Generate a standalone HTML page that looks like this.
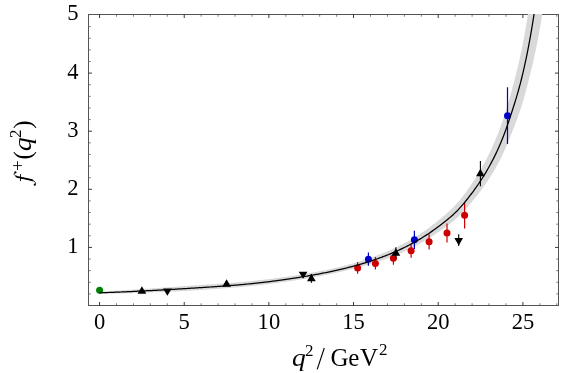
<!DOCTYPE html>
<html><head><meta charset="utf-8"><title>f+(q2)</title>
<style>html,body{margin:0;padding:0;background:#fff;}svg{display:block;}</style>
</head><body>
<svg width="581" height="373" viewBox="0 0 581 373">
<rect width="581" height="373" fill="#fff"/>
<rect x="88.5" y="14.5" width="470.0" height="291.0" fill="none" stroke="#555" stroke-width="1"/>
<path d="M99.55,305.5v-3.5M99.55,14.5v3.5M184.22,305.5v-3.5M184.22,14.5v3.5M268.89,305.5v-3.5M268.89,14.5v3.5M353.56,305.5v-3.5M353.56,14.5v3.5M438.23,305.5v-3.5M438.23,14.5v3.5M522.90,305.5v-3.5M522.90,14.5v3.5M88.5,247.40h3.5M558.5,247.40h-3.5M88.5,189.30h3.5M558.5,189.30h-3.5M88.5,131.20h3.5M558.5,131.20h-3.5M88.5,73.10h3.5M558.5,73.10h-3.5" stroke="#222" stroke-width="0.9" fill="none"/>
<path d="M116.48,305.5v-2.2M116.48,14.5v2.2M133.42,305.5v-2.2M133.42,14.5v2.2M150.35,305.5v-2.2M150.35,14.5v2.2M167.29,305.5v-2.2M167.29,14.5v2.2M201.15,305.5v-2.2M201.15,14.5v2.2M218.09,305.5v-2.2M218.09,14.5v2.2M235.02,305.5v-2.2M235.02,14.5v2.2M251.96,305.5v-2.2M251.96,14.5v2.2M285.82,305.5v-2.2M285.82,14.5v2.2M302.76,305.5v-2.2M302.76,14.5v2.2M319.69,305.5v-2.2M319.69,14.5v2.2M336.63,305.5v-2.2M336.63,14.5v2.2M370.49,305.5v-2.2M370.49,14.5v2.2M387.43,305.5v-2.2M387.43,14.5v2.2M404.36,305.5v-2.2M404.36,14.5v2.2M421.30,305.5v-2.2M421.30,14.5v2.2M455.16,305.5v-2.2M455.16,14.5v2.2M472.10,305.5v-2.2M472.10,14.5v2.2M489.03,305.5v-2.2M489.03,14.5v2.2M505.97,305.5v-2.2M505.97,14.5v2.2M539.83,305.5v-2.2M539.83,14.5v2.2M556.77,305.5v-2.2M556.77,14.5v2.2M88.5,293.88h2.2M558.5,293.88h-2.2M88.5,282.26h2.2M558.5,282.26h-2.2M88.5,270.64h2.2M558.5,270.64h-2.2M88.5,259.02h2.2M558.5,259.02h-2.2M88.5,235.78h2.2M558.5,235.78h-2.2M88.5,224.16h2.2M558.5,224.16h-2.2M88.5,212.54h2.2M558.5,212.54h-2.2M88.5,200.92h2.2M558.5,200.92h-2.2M88.5,177.68h2.2M558.5,177.68h-2.2M88.5,166.06h2.2M558.5,166.06h-2.2M88.5,154.44h2.2M558.5,154.44h-2.2M88.5,142.82h2.2M558.5,142.82h-2.2M88.5,119.58h2.2M558.5,119.58h-2.2M88.5,107.96h2.2M558.5,107.96h-2.2M88.5,96.34h2.2M558.5,96.34h-2.2M88.5,84.72h2.2M558.5,84.72h-2.2M88.5,61.48h2.2M558.5,61.48h-2.2M88.5,49.86h2.2M558.5,49.86h-2.2M88.5,38.24h2.2M558.5,38.24h-2.2M88.5,26.62h2.2M558.5,26.62h-2.2" stroke="#555" stroke-width="0.8" fill="none"/>
<clipPath id="c"><rect x="88.5" y="14.0" width="470.0" height="291.5"/></clipPath>
<g clip-path="url(#c)">
<path d="M99.55,291.53 L100.67,291.47 L101.78,291.42 L102.90,291.36 L104.01,291.30 L105.13,291.24 L106.25,291.18 L107.36,291.12 L108.48,291.06 L109.60,291.00 L110.71,290.94 L111.83,290.88 L112.94,290.82 L114.06,290.76 L115.18,290.70 L116.29,290.63 L117.41,290.57 L118.53,290.51 L119.64,290.44 L120.76,290.38 L121.87,290.31 L122.99,290.25 L124.11,290.18 L125.22,290.12 L126.34,290.05 L127.46,289.98 L128.57,289.92 L129.69,289.85 L130.80,289.78 L131.92,289.71 L133.04,289.64 L134.15,289.57 L135.27,289.50 L136.38,289.43 L137.50,289.36 L138.62,289.29 L139.73,289.22 L140.85,289.15 L141.97,289.07 L143.08,289.00 L144.20,288.93 L145.31,288.86 L146.43,288.78 L147.55,288.71 L148.66,288.63 L149.78,288.56 L150.90,288.48 L152.01,288.41 L153.13,288.33 L154.24,288.25 L155.36,288.18 L156.48,288.10 L157.59,288.02 L158.71,287.94 L159.82,287.87 L160.94,287.79 L162.06,287.71 L163.17,287.63 L164.29,287.55 L165.41,287.47 L166.52,287.39 L167.64,287.31 L168.75,287.22 L169.87,287.14 L170.99,287.06 L172.10,286.98 L173.22,286.89 L174.34,286.81 L175.45,286.73 L176.57,286.64 L177.68,286.56 L178.80,286.48 L179.92,286.39 L181.03,286.31 L182.15,286.22 L183.27,286.14 L184.38,286.05 L185.50,285.98 L186.61,285.91 L187.73,285.84 L188.85,285.77 L189.96,285.70 L191.08,285.63 L192.19,285.56 L193.31,285.49 L194.43,285.42 L195.54,285.35 L196.66,285.28 L197.78,285.21 L198.89,285.13 L200.01,285.06 L201.12,284.99 L202.24,284.92 L203.36,284.84 L204.47,284.77 L205.59,284.70 L206.71,284.62 L207.82,284.55 L208.94,284.47 L210.05,284.40 L211.17,284.32 L212.29,284.24 L213.40,284.17 L214.52,284.09 L215.63,284.01 L216.75,283.94 L217.87,283.86 L218.98,283.78 L220.10,283.70 L221.22,283.62 L222.33,283.54 L223.45,283.46 L224.56,283.37 L225.68,283.29 L226.80,283.21 L227.91,283.12 L229.03,283.04 L230.15,282.95 L231.26,282.86 L232.38,282.77 L233.49,282.68 L234.61,282.59 L235.73,282.50 L236.84,282.41 L237.96,282.31 L239.08,282.22 L240.19,282.12 L241.31,282.02 L242.42,281.92 L243.54,281.82 L244.66,281.72 L245.77,281.61 L246.89,281.51 L248.00,281.40 L249.12,281.29 L250.24,281.18 L251.35,281.07 L252.47,280.96 L253.59,280.84 L254.70,280.72 L255.82,280.60 L256.93,280.48 L258.05,280.36 L259.17,280.24 L260.28,280.11 L261.40,279.99 L262.52,279.86 L263.63,279.73 L264.75,279.60 L265.86,279.46 L266.98,279.33 L268.10,279.19 L269.21,279.05 L270.33,278.91 L271.44,278.77 L272.56,278.63 L273.68,278.48 L274.79,278.34 L275.91,278.19 L277.03,278.04 L278.14,277.89 L279.26,277.74 L280.37,277.59 L281.49,277.43 L282.61,277.27 L283.72,277.12 L284.84,276.96 L285.96,276.80 L287.07,276.63 L288.19,276.47 L289.30,276.31 L290.42,276.14 L291.54,275.97 L292.65,275.80 L293.77,275.63 L294.89,275.46 L296.00,275.28 L297.12,275.11 L298.23,274.93 L299.35,274.75 L300.47,274.57 L301.58,274.39 L302.70,274.21 L303.81,274.02 L304.93,273.84 L306.05,273.65 L307.16,273.46 L308.28,273.27 L309.40,273.08 L310.51,272.88 L311.63,272.68 L312.74,272.48 L313.86,272.28 L314.98,272.08 L316.09,271.88 L317.21,271.67 L318.33,271.46 L319.44,271.25 L320.56,271.04 L321.67,270.82 L322.79,270.60 L323.91,270.38 L325.02,270.16 L326.14,269.94 L327.26,269.71 L328.37,269.48 L329.49,269.25 L330.60,269.01 L331.72,268.78 L332.84,268.54 L333.95,268.29 L335.07,268.05 L336.18,267.80 L337.30,267.55 L338.42,267.28 L339.53,267.01 L340.65,266.73 L341.77,266.44 L342.88,266.16 L344.00,265.87 L345.11,265.58 L346.23,265.28 L347.35,264.98 L348.46,264.68 L349.58,264.37 L350.70,264.06 L351.81,263.74 L352.93,263.42 L354.04,263.10 L355.16,262.77 L356.28,262.44 L357.39,262.11 L358.51,261.77 L359.62,261.42 L360.74,261.08 L361.86,260.72 L362.97,260.37 L364.09,260.01 L365.21,259.64 L366.32,259.27 L367.44,258.89 L368.55,258.51 L369.67,258.13 L370.79,257.74 L371.90,257.34 L373.02,256.94 L374.14,256.54 L375.25,256.12 L376.37,255.71 L377.48,255.29 L378.60,254.86 L379.72,254.42 L380.83,253.98 L381.95,253.54 L383.07,253.09 L384.18,252.63 L385.30,252.17 L386.41,251.70 L387.53,251.22 L388.65,250.74 L389.76,250.25 L390.88,249.75 L391.99,249.25 L393.11,248.74 L394.23,248.22 L395.34,247.70 L396.46,247.17 L397.58,246.63 L398.69,246.08 L399.81,245.53 L400.92,244.97 L402.04,244.40 L403.16,243.82 L404.27,243.23 L405.39,242.64 L406.51,242.03 L407.62,241.42 L408.74,240.80 L409.85,240.17 L410.97,239.53 L412.09,238.88 L413.20,238.22 L414.32,237.56 L415.43,236.88 L416.55,236.19 L417.67,235.49 L418.78,234.78 L419.90,234.06 L421.02,233.33 L422.13,232.59 L423.25,231.84 L424.36,231.08 L425.48,230.30 L426.60,229.51 L427.71,228.71 L428.83,227.90 L429.95,227.08 L431.06,226.24 L432.18,225.40 L433.29,224.54 L434.41,223.67 L435.53,222.78 L436.64,221.89 L437.76,220.99 L438.88,220.08 L439.99,219.15 L441.11,218.22 L442.22,217.28 L443.34,216.33 L444.46,215.38 L445.57,214.41 L446.69,213.43 L447.80,212.43 L448.92,211.42 L450.04,210.39 L451.15,209.33 L452.27,208.25 L453.39,207.14 L454.50,205.99 L455.62,204.81 L456.73,203.58 L457.85,202.32 L458.97,201.02 L460.08,199.67 L461.20,198.29 L462.32,196.88 L463.43,195.43 L464.55,193.95 L465.66,192.43 L466.78,190.90 L467.90,189.33 L469.01,187.74 L470.13,186.13 L471.24,184.49 L472.36,182.83 L473.48,181.14 L474.59,179.43 L475.71,177.68 L476.83,175.91 L477.94,174.10 L479.06,172.25 L480.17,170.37 L481.29,168.45 L482.41,166.48 L483.52,164.47 L484.64,162.42 L485.76,160.32 L486.87,158.17 L487.99,155.97 L489.10,153.71 L490.22,151.40 L491.34,149.03 L492.45,146.60 L493.57,144.10 L494.69,141.54 L495.80,138.91 L496.92,136.19 L498.03,133.40 L499.15,130.51 L500.27,127.52 L501.38,124.42 L502.50,121.20 L503.61,117.86 L504.73,114.39 L505.85,110.80 L506.96,107.09 L508.08,103.28 L509.20,99.38 L510.31,95.42 L511.43,91.39 L512.54,87.31 L513.66,83.16 L514.78,78.93 L515.89,74.59 L517.01,70.12 L518.13,65.48 L519.24,60.65 L520.36,55.60 L521.47,50.31 L522.59,44.77 L523.71,38.98 L524.82,32.92 L525.94,26.57 L527.05,19.94 L528.17,13.00 L529.29,5.75 L530.40,-1.84 L531.52,-9.80 L532.64,-18.13 L533.75,-26.88 L534.87,-36.07 L535.98,-45.73 L537.10,-55.91 L538.22,-66.64 L539.33,-77.98 L540.45,-89.96 L541.57,-102.66 L542.68,-116.13 L543.80,-130.44 L544.91,-145.67 L544.91,-3.88 L543.80,4.00 L542.68,11.46 L541.57,18.53 L540.45,25.23 L539.33,31.61 L538.22,37.68 L537.10,43.48 L535.98,49.01 L534.87,54.30 L533.75,59.36 L532.64,64.21 L531.52,68.87 L530.40,73.35 L529.29,77.80 L528.17,82.38 L527.05,86.78 L525.94,91.01 L524.82,95.08 L523.71,98.99 L522.59,102.74 L521.47,106.35 L520.36,109.81 L519.24,113.12 L518.13,116.31 L517.01,119.39 L515.89,122.37 L514.78,125.28 L513.66,128.14 L512.54,130.96 L511.43,133.76 L510.31,136.55 L509.20,139.32 L508.08,142.06 L506.96,144.75 L505.85,147.39 L504.73,149.96 L503.61,152.45 L502.50,154.86 L501.38,157.19 L500.27,159.44 L499.15,161.61 L498.03,163.72 L496.92,165.77 L495.80,167.77 L494.69,169.72 L493.57,171.62 L492.45,173.48 L491.34,175.29 L490.22,177.07 L489.10,178.81 L487.99,180.52 L486.87,182.19 L485.76,183.83 L484.64,185.44 L483.52,187.02 L482.41,188.56 L481.29,190.08 L480.17,191.57 L479.06,193.03 L477.94,194.47 L476.83,195.89 L475.71,197.29 L474.59,198.66 L473.48,200.02 L472.36,201.36 L471.24,202.68 L470.13,203.98 L469.01,205.27 L467.90,206.55 L466.78,207.81 L465.66,209.05 L464.55,210.27 L463.43,211.47 L462.32,212.64 L461.20,213.80 L460.08,214.92 L458.97,216.02 L457.85,217.08 L456.73,218.11 L455.62,219.11 L454.50,220.09 L453.39,221.03 L452.27,221.94 L451.15,222.83 L450.04,223.70 L448.92,224.56 L447.80,225.39 L446.69,226.22 L445.57,227.03 L444.46,227.83 L443.34,228.63 L442.22,229.42 L441.11,230.20 L439.99,230.98 L438.88,231.75 L437.76,232.52 L436.64,233.28 L435.53,234.03 L434.41,234.77 L433.29,235.51 L432.18,236.23 L431.06,236.95 L429.95,237.65 L428.83,238.35 L427.71,239.04 L426.60,239.71 L425.48,240.38 L424.36,241.04 L423.25,241.69 L422.13,242.33 L421.02,242.96 L419.90,243.58 L418.78,244.20 L417.67,244.80 L416.55,245.40 L415.43,245.98 L414.32,246.56 L413.20,247.13 L412.09,247.70 L410.97,248.25 L409.85,248.80 L408.74,249.34 L407.62,249.87 L406.51,250.40 L405.39,250.92 L404.27,251.43 L403.16,251.93 L402.04,252.43 L400.92,252.92 L399.81,253.40 L398.69,253.88 L397.58,254.35 L396.46,254.81 L395.34,255.27 L394.23,255.72 L393.11,256.17 L391.99,256.61 L390.88,257.04 L389.76,257.47 L388.65,257.89 L387.53,258.31 L386.41,258.72 L385.30,259.13 L384.18,259.53 L383.07,259.92 L381.95,260.31 L380.83,260.70 L379.72,261.08 L378.60,261.45 L377.48,261.82 L376.37,262.19 L375.25,262.55 L374.14,262.91 L373.02,263.26 L371.90,263.60 L370.79,263.95 L369.67,264.28 L368.55,264.62 L367.44,264.95 L366.32,265.27 L365.21,265.60 L364.09,265.91 L362.97,266.23 L361.86,266.54 L360.74,266.84 L359.62,267.14 L358.51,267.44 L357.39,267.74 L356.28,268.03 L355.16,268.31 L354.04,268.60 L352.93,268.88 L351.81,269.15 L350.70,269.43 L349.58,269.70 L348.46,269.96 L347.35,270.23 L346.23,270.49 L345.11,270.75 L344.00,271.00 L342.88,271.25 L341.77,271.50 L340.65,271.75 L339.53,271.99 L338.42,272.24 L337.30,272.49 L336.18,272.74 L335.07,272.99 L333.95,273.23 L332.84,273.48 L331.72,273.72 L330.60,273.95 L329.49,274.19 L328.37,274.42 L327.26,274.65 L326.14,274.88 L325.02,275.10 L323.91,275.32 L322.79,275.54 L321.67,275.76 L320.56,275.98 L319.44,276.19 L318.33,276.40 L317.21,276.61 L316.09,276.82 L314.98,277.02 L313.86,277.22 L312.74,277.42 L311.63,277.62 L310.51,277.82 L309.40,278.02 L308.28,278.21 L307.16,278.40 L306.05,278.59 L304.93,278.78 L303.81,278.96 L302.70,279.15 L301.58,279.33 L300.47,279.51 L299.35,279.69 L298.23,279.87 L297.12,280.05 L296.00,280.22 L294.89,280.40 L293.77,280.57 L292.65,280.74 L291.54,280.91 L290.42,281.08 L289.30,281.25 L288.19,281.41 L287.07,281.57 L285.96,281.74 L284.84,281.90 L283.72,282.06 L282.61,282.21 L281.49,282.37 L280.37,282.53 L279.26,282.68 L278.14,282.83 L277.03,282.98 L275.91,283.13 L274.79,283.28 L273.68,283.42 L272.56,283.57 L271.44,283.71 L270.33,283.85 L269.21,283.99 L268.10,284.13 L266.98,284.27 L265.86,284.40 L264.75,284.54 L263.63,284.67 L262.52,284.80 L261.40,284.93 L260.28,285.05 L259.17,285.18 L258.05,285.30 L256.93,285.42 L255.82,285.54 L254.70,285.66 L253.59,285.78 L252.47,285.90 L251.35,286.01 L250.24,286.12 L249.12,286.23 L248.00,286.34 L246.89,286.45 L245.77,286.55 L244.66,286.66 L243.54,286.76 L242.42,286.86 L241.31,286.96 L240.19,287.06 L239.08,287.16 L237.96,287.25 L236.84,287.35 L235.73,287.44 L234.61,287.53 L233.49,287.62 L232.38,287.71 L231.26,287.80 L230.15,287.89 L229.03,287.98 L227.91,288.06 L226.80,288.15 L225.68,288.23 L224.56,288.31 L223.45,288.40 L222.33,288.48 L221.22,288.56 L220.10,288.64 L218.98,288.72 L217.87,288.80 L216.75,288.88 L215.63,288.95 L214.52,289.03 L213.40,289.11 L212.29,289.18 L211.17,289.26 L210.05,289.34 L208.94,289.41 L207.82,289.49 L206.71,289.56 L205.59,289.64 L204.47,289.71 L203.36,289.78 L202.24,289.86 L201.12,289.93 L200.01,290.00 L198.89,290.07 L197.78,290.15 L196.66,290.22 L195.54,290.29 L194.43,290.36 L193.31,290.43 L192.19,290.50 L191.08,290.57 L189.96,290.64 L188.85,290.71 L187.73,290.78 L186.61,290.85 L185.50,290.92 L184.38,290.99 L183.27,291.05 L182.15,291.10 L181.03,291.15 L179.92,291.21 L178.80,291.26 L177.68,291.31 L176.57,291.36 L175.45,291.41 L174.34,291.46 L173.22,291.51 L172.10,291.56 L170.99,291.61 L169.87,291.66 L168.75,291.71 L167.64,291.76 L166.52,291.81 L165.41,291.86 L164.29,291.91 L163.17,291.95 L162.06,292.00 L160.94,292.05 L159.82,292.09 L158.71,292.14 L157.59,292.18 L156.48,292.23 L155.36,292.27 L154.24,292.32 L153.13,292.36 L152.01,292.41 L150.90,292.45 L149.78,292.49 L148.66,292.54 L147.55,292.58 L146.43,292.62 L145.31,292.66 L144.20,292.70 L143.08,292.74 L141.97,292.78 L140.85,292.82 L139.73,292.86 L138.62,292.90 L137.50,292.94 L136.38,292.98 L135.27,293.01 L134.15,293.05 L133.04,293.09 L131.92,293.13 L130.80,293.16 L129.69,293.20 L128.57,293.23 L127.46,293.27 L126.34,293.30 L125.22,293.34 L124.11,293.37 L122.99,293.40 L121.87,293.44 L120.76,293.47 L119.64,293.50 L118.53,293.53 L117.41,293.56 L116.29,293.59 L115.18,293.62 L114.06,293.65 L112.94,293.68 L111.83,293.71 L110.71,293.74 L109.60,293.77 L108.48,293.80 L107.36,293.82 L106.25,293.85 L105.13,293.88 L104.01,293.90 L102.90,293.93 L101.78,293.95 L100.67,293.98 L99.55,294.00Z" fill="#d9d9d9" stroke="none"/>
<circle cx="99.6" cy="290.3" r="3.5" fill="#008000"/>
<line x1="357.6" y1="262.0" x2="357.6" y2="273.8" stroke="#cc0000" stroke-width="1.2"/><circle cx="357.6" cy="267.9" r="3.5" fill="#cc0000"/>
<line x1="375.4" y1="257.1" x2="375.4" y2="269.5" stroke="#cc0000" stroke-width="1.2"/><circle cx="375.4" cy="263.5" r="3.5" fill="#cc0000"/>
<line x1="393.4" y1="252.6" x2="393.4" y2="264.7" stroke="#cc0000" stroke-width="1.2"/><circle cx="393.4" cy="258.3" r="3.5" fill="#cc0000"/>
<line x1="411.1" y1="244.8" x2="411.1" y2="257.8" stroke="#cc0000" stroke-width="1.2"/><circle cx="411.1" cy="250.8" r="3.5" fill="#cc0000"/>
<line x1="429.1" y1="234.2" x2="429.1" y2="249.6" stroke="#cc0000" stroke-width="1.2"/><circle cx="429.1" cy="241.7" r="3.5" fill="#cc0000"/>
<line x1="447.0" y1="223.4" x2="447.0" y2="242.5" stroke="#cc0000" stroke-width="1.2"/><circle cx="447.0" cy="233.0" r="3.5" fill="#cc0000"/>
<line x1="464.6" y1="202.7" x2="464.6" y2="228.4" stroke="#cc0000" stroke-width="1.2"/><circle cx="464.6" cy="215.3" r="3.5" fill="#cc0000"/>
<line x1="368.4" y1="252.4" x2="368.4" y2="265.7" stroke="#0000cc" stroke-width="1.2"/><circle cx="368.4" cy="259.2" r="3.5" fill="#0000cc"/>
<line x1="414.4" y1="230.8" x2="414.4" y2="249.0" stroke="#0000cc" stroke-width="1.2"/><circle cx="414.4" cy="239.8" r="3.5" fill="#0000cc"/>
<line x1="507.5" y1="87.2" x2="507.5" y2="144.0" stroke="#0000cc" stroke-width="1.2"/><circle cx="507.5" cy="115.7" r="3.5" fill="#0000cc"/>
<path d="M99.55,292.83 L100.67,292.79 L101.78,292.75 L102.90,292.71 L104.01,292.67 L105.13,292.63 L106.25,292.59 L107.36,292.54 L108.48,292.50 L109.60,292.46 L110.71,292.42 L111.83,292.37 L112.94,292.33 L114.06,292.28 L115.18,292.24 L116.29,292.19 L117.41,292.15 L118.53,292.10 L119.64,292.05 L120.76,292.00 L121.87,291.96 L122.99,291.91 L124.11,291.86 L125.22,291.81 L126.34,291.76 L127.46,291.71 L128.57,291.66 L129.69,291.61 L130.80,291.56 L131.92,291.51 L133.04,291.46 L134.15,291.40 L135.27,291.35 L136.38,291.30 L137.50,291.24 L138.62,291.19 L139.73,291.14 L140.85,291.08 L141.97,291.03 L143.08,290.97 L144.20,290.91 L145.31,290.86 L146.43,290.80 L147.55,290.74 L148.66,290.69 L149.78,290.63 L150.90,290.57 L152.01,290.51 L153.13,290.45 L154.24,290.39 L155.36,290.33 L156.48,290.27 L157.59,290.21 L158.71,290.15 L159.82,290.09 L160.94,290.03 L162.06,289.97 L163.17,289.90 L164.29,289.84 L165.41,289.78 L166.52,289.71 L167.64,289.65 L168.75,289.59 L169.87,289.52 L170.99,289.46 L172.10,289.39 L173.22,289.33 L174.34,289.26 L175.45,289.19 L176.57,289.13 L177.68,289.06 L178.80,288.99 L179.92,288.93 L181.03,288.86 L182.15,288.79 L183.27,288.72 L184.38,288.65 L185.50,288.58 L186.61,288.51 L187.73,288.44 L188.85,288.37 L189.96,288.30 L191.08,288.23 L192.19,288.16 L193.31,288.09 L194.43,288.02 L195.54,287.95 L196.66,287.88 L197.78,287.81 L198.89,287.73 L200.01,287.66 L201.12,287.59 L202.24,287.52 L203.36,287.44 L204.47,287.37 L205.59,287.30 L206.71,287.22 L207.82,287.15 L208.94,287.07 L210.05,287.00 L211.17,286.92 L212.29,286.84 L213.40,286.77 L214.52,286.69 L215.63,286.61 L216.75,286.54 L217.87,286.46 L218.98,286.38 L220.10,286.30 L221.22,286.22 L222.33,286.14 L223.45,286.06 L224.56,285.97 L225.68,285.89 L226.80,285.81 L227.91,285.72 L229.03,285.64 L230.15,285.55 L231.26,285.46 L232.38,285.37 L233.49,285.28 L234.61,285.19 L235.73,285.10 L236.84,285.01 L237.96,284.91 L239.08,284.82 L240.19,284.72 L241.31,284.62 L242.42,284.52 L243.54,284.42 L244.66,284.32 L245.77,284.21 L246.89,284.11 L248.00,284.00 L249.12,283.89 L250.24,283.78 L251.35,283.67 L252.47,283.56 L253.59,283.44 L254.70,283.32 L255.82,283.20 L256.93,283.08 L258.05,282.96 L259.17,282.84 L260.28,282.71 L261.40,282.59 L262.52,282.46 L263.63,282.33 L264.75,282.20 L265.86,282.06 L266.98,281.93 L268.10,281.79 L269.21,281.65 L270.33,281.51 L271.44,281.37 L272.56,281.23 L273.68,281.08 L274.79,280.94 L275.91,280.79 L277.03,280.64 L278.14,280.49 L279.26,280.34 L280.37,280.19 L281.49,280.03 L282.61,279.87 L283.72,279.72 L284.84,279.56 L285.96,279.40 L287.07,279.23 L288.19,279.07 L289.30,278.91 L290.42,278.74 L291.54,278.57 L292.65,278.40 L293.77,278.23 L294.89,278.06 L296.00,277.88 L297.12,277.71 L298.23,277.53 L299.35,277.35 L300.47,277.17 L301.58,276.99 L302.70,276.81 L303.81,276.62 L304.93,276.44 L306.05,276.25 L307.16,276.06 L308.28,275.87 L309.40,275.68 L310.51,275.48 L311.63,275.28 L312.74,275.08 L313.86,274.88 L314.98,274.68 L316.09,274.48 L317.21,274.27 L318.33,274.06 L319.44,273.85 L320.56,273.64 L321.67,273.42 L322.79,273.20 L323.91,272.98 L325.02,272.76 L326.14,272.54 L327.26,272.31 L328.37,272.08 L329.49,271.85 L330.60,271.61 L331.72,271.38 L332.84,271.14 L333.95,270.89 L335.07,270.65 L336.18,270.40 L337.30,270.15 L338.42,269.90 L339.53,269.64 L340.65,269.38 L341.77,269.12 L342.88,268.85 L344.00,268.58 L345.11,268.31 L346.23,268.03 L347.35,267.75 L348.46,267.47 L349.58,267.18 L350.70,266.90 L351.81,266.60 L352.93,266.31 L354.04,266.01 L355.16,265.70 L356.28,265.39 L357.39,265.08 L358.51,264.77 L359.62,264.45 L360.74,264.12 L361.86,263.80 L362.97,263.46 L364.09,263.13 L365.21,262.79 L366.32,262.44 L367.44,262.09 L368.55,261.74 L369.67,261.38 L370.79,261.02 L371.90,260.65 L373.02,260.28 L374.14,259.90 L375.25,259.52 L376.37,259.13 L377.48,258.74 L378.60,258.34 L379.72,257.94 L380.83,257.53 L381.95,257.12 L383.07,256.70 L384.18,256.27 L385.30,255.84 L386.41,255.41 L387.53,254.97 L388.65,254.52 L389.76,254.06 L390.88,253.60 L391.99,253.14 L393.11,252.66 L394.23,252.18 L395.34,251.70 L396.46,251.21 L397.58,250.71 L398.69,250.20 L399.81,249.69 L400.92,249.16 L402.04,248.64 L403.16,248.10 L404.27,247.56 L405.39,247.01 L406.51,246.45 L407.62,245.88 L408.74,245.31 L409.85,244.72 L410.97,244.13 L412.09,243.53 L413.20,242.93 L414.32,242.31 L415.43,241.68 L416.55,241.05 L417.67,240.40 L418.78,239.75 L419.90,239.09 L421.02,238.41 L422.13,237.73 L423.25,237.03 L424.36,236.33 L425.48,235.62 L426.60,234.89 L427.71,234.16 L428.83,233.41 L429.95,232.65 L431.06,231.88 L432.18,231.11 L433.29,230.32 L434.41,229.52 L435.53,228.71 L436.64,227.89 L437.76,227.06 L438.88,226.22 L439.99,225.38 L441.11,224.53 L442.22,223.67 L443.34,222.80 L444.46,221.93 L445.57,221.05 L446.69,220.15 L447.80,219.25 L448.92,218.33 L450.04,217.39 L451.15,216.43 L452.27,215.44 L453.39,214.43 L454.50,213.39 L455.62,212.32 L456.73,211.21 L457.85,210.07 L458.97,208.89 L460.08,207.67 L461.20,206.42 L462.32,205.14 L463.43,203.83 L464.55,202.50 L465.66,201.14 L466.78,199.75 L467.90,198.34 L469.01,196.92 L470.13,195.47 L471.24,194.00 L472.36,192.52 L473.48,191.01 L474.59,189.48 L475.71,187.92 L476.83,186.34 L477.94,184.73 L479.06,183.09 L480.17,181.42 L481.29,179.72 L482.41,177.99 L483.52,176.22 L484.64,174.41 L485.76,172.56 L486.87,170.67 L487.99,168.74 L489.10,166.76 L490.22,164.74 L491.34,162.67 L492.45,160.55 L493.57,158.38 L494.69,156.15 L495.80,153.87 L496.92,151.52 L498.03,149.10 L499.15,146.61 L500.27,144.03 L501.38,141.36 L502.50,138.59 L503.61,135.72 L504.73,132.75 L505.85,129.67 L506.96,126.51 L508.08,123.26 L509.20,119.95 L510.31,116.59 L511.43,113.19 L512.54,109.75 L513.66,106.27 L514.78,102.73 L515.89,99.12 L517.01,95.39 L518.13,91.54 L519.24,87.54 L520.36,83.36 L521.47,78.99 L522.59,74.43 L523.71,69.66 L524.82,64.67 L525.94,59.47 L527.05,54.05 L528.17,48.38 L529.29,42.47 L530.40,36.30 L531.52,29.86 L532.64,23.11 L533.75,16.05 L534.87,8.65 L535.98,0.89 L537.10,-7.27 L538.22,-15.85 L539.33,-24.90 L540.45,-34.44 L541.57,-44.52 L542.68,-55.19 L543.80,-66.51 L544.91,-78.53" fill="none" stroke="#000" stroke-width="1.25" stroke-linejoin="round"/>
<polygon points="141.9,286.15000000000003 146.25,293.75 137.55,293.75" fill="#000"/>
<polygon points="226.6,279.35 230.95,286.75 222.25,286.75" fill="#000"/>
<line x1="311.4" y1="274.0" x2="311.4" y2="282.85" stroke="#000" stroke-width="1.1"/><polygon points="311.4,273.85 315.75,281.15 307.04999999999995,281.15" fill="#000"/>
<line x1="395.9" y1="247.2" x2="395.9" y2="258.4" stroke="#000" stroke-width="1.1"/><polygon points="395.9,248.15 400.25,255.85 391.54999999999995,255.85" fill="#000"/>
<line x1="480.4" y1="161.0" x2="480.4" y2="186.3" stroke="#000" stroke-width="1.1"/><polygon points="480.4,168.75 484.75,176.14999999999998 476.04999999999995,176.14999999999998" fill="#000"/>
<polygon points="167.4,295.84999999999997 171.75,288.45 163.05,288.45" fill="#000"/>
<polygon points="303.1,278.84999999999997 307.45000000000005,271.65000000000003 298.75,271.65000000000003" fill="#000"/>
<line x1="458.7" y1="234.3" x2="458.7" y2="246.0" stroke="#000" stroke-width="1.1"/><polygon points="458.7,245.45 463.05,237.95000000000002 454.34999999999997,237.95000000000002" fill="#000"/>
</g>
<g font-family="Liberation Serif, serif" font-size="24" fill="#000" style="font-kerning:none;opacity:0.999">
<text transform="translate(99.55,329.4) scale(0.94,0.985)" text-anchor="middle">0</text>
<text transform="translate(184.22,329.4) scale(0.94,0.985)" text-anchor="middle">5</text>
<text transform="translate(268.89,329.4) scale(0.94,0.985)" text-anchor="middle">10</text>
<text transform="translate(353.56,329.4) scale(0.94,0.985)" text-anchor="middle">15</text>
<text transform="translate(438.23,329.4) scale(0.94,0.985)" text-anchor="middle">20</text>
<text transform="translate(522.90,329.4) scale(0.94,0.985)" text-anchor="middle">25</text>
<text transform="translate(78.6,252.80) scale(0.94,0.995)" text-anchor="end">1</text>
<text transform="translate(78.6,194.70) scale(0.94,0.995)" text-anchor="end">2</text>
<text transform="translate(78.6,136.60) scale(0.94,0.995)" text-anchor="end">3</text>
<text transform="translate(78.6,78.50) scale(0.94,0.995)" text-anchor="end">4</text>
<text transform="translate(78.6,20.40) scale(0.94,0.995)" text-anchor="end">5</text>
<text transform="translate(292.0,366.2) scale(1.1,1.0)" font-size="25" font-style="italic">q</text>
<text transform="translate(305.0,356.2) scale(1.0,1.0)" font-size="17">2</text>
<path d="M317.2,369.4 L324.3,348.0" stroke="#000" stroke-width="1.15" fill="none"/>
<text transform="translate(330.5,366.2) scale(1.0,1.0)" font-size="25">G</text>
<text transform="translate(348.2,366.2) scale(1.0,1.0)" font-size="25">e</text>
<text transform="translate(360.0,366.2) scale(1.0,1.0)" font-size="25">V</text>
<text transform="translate(379.0,355.1) scale(1.0,1.0)" font-size="17">2</text>
<g transform="translate(30.8,186.0) rotate(-90)">
<text transform="translate(26.6,0) scale(1.0,1.0)" font-size="25">(</text>
<text transform="translate(34.7,0) scale(1.12,1.0)" font-size="25" font-style="italic">q</text>
<text transform="translate(48.1,-10.0) scale(1.0,1.0)" font-size="17">2</text>
<text transform="translate(57.3,0) scale(1.0,1.0)" font-size="25">)</text>
</g>
<g transform="translate(30.8,186.0) rotate(-90)" fill="none" stroke="#000" stroke-linecap="round" stroke-linejoin="round"><path d="M13.5,-15.3 C13.3,-16.7 12.2,-17.2 11.2,-16.5 C10.1,-15.7 9.4,-14.2 8.9,-12.6 L6.6,-2.0 C6.1,0.6 5.2,3.2 3.9,4.3 C3.0,5.0 1.9,5.0 1.4,4.1" stroke-width="0.85"/><path d="M9.6,-14.4 C9.2,-13.6 9.0,-13.0 8.9,-12.6 L6.6,-2.0 C6.3,-0.6 6.0,0.6 5.6,1.6" stroke-width="1.7"/><path d="M4.9,-10.3 H11.9" stroke-width="0.9" stroke-linecap="butt"/><path d="M16.0,-13.3 H24.8 M20.4,-17.7 V-8.9" stroke-width="0.9" stroke-linecap="butt"/><circle cx="13.6" cy="-15.4" r="1.1" fill="#000" stroke="none"/><circle cx="1.3" cy="4.0" r="1.1" fill="#000" stroke="none"/></g>
</g>
</svg>
</body></html>
